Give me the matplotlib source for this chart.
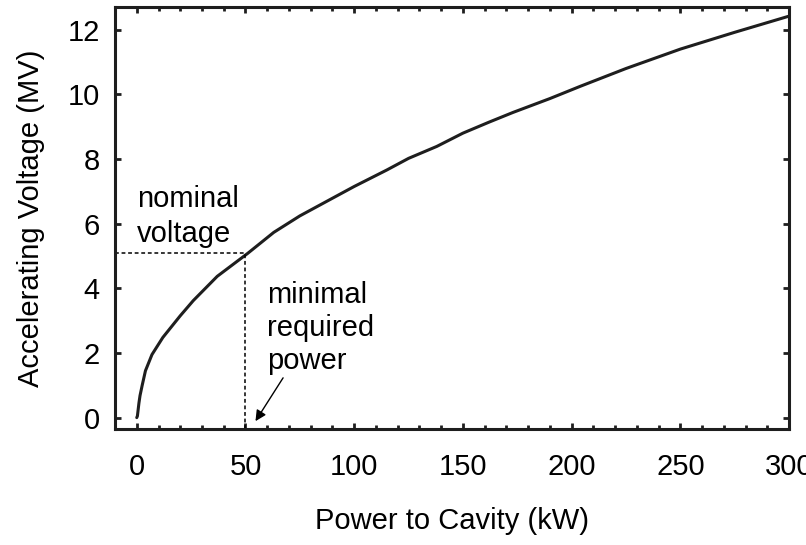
import numpy as np
import matplotlib
matplotlib.use("Agg")
import matplotlib.pyplot as plt
from matplotlib.ticker import MultipleLocator

# curve
power_kw = [0.0, 0.3, 1.0, 1.5, 2.5, 4.0, 7.0, 12.0, 20.0, 26.0, 37.0, 51.0,
            63.0, 75.0, 89.0, 100.0, 115.0, 125.0, 138.0, 150.0, 162.0, 173.0,
            190.0, 204.0, 225.0, 250.0, 275.0, 300.0]
voltage_mv = [0.0, 0.05, 0.45, 0.68, 1.0, 1.45, 1.95, 2.48, 3.15, 3.62, 4.37, 5.08,
              5.73, 6.24, 6.75, 7.15, 7.66, 8.02, 8.39, 8.80, 9.14, 9.44,
              9.87, 10.25, 10.80, 11.40, 11.92, 12.42]

nominal_power = 50.0
nominal_voltage = 5.08

x_ticks = [0, 50, 100, 150, 200, 250, 300]
y_ticks = [0, 2, 4, 6, 8, 10, 12]

plt.rcParams["font.family"] = ["Liberation Sans", "DejaVu Sans"]

fig = plt.figure(figsize=(8.06, 5.45), dpi=100)
ax = fig.add_axes([0.1427, 0.213, 0.979 - 0.1427, 0.987 - 0.213])

ink = "#1e1e1e"
ax.plot(power_kw, voltage_mv, color=ink, lw=2.2, solid_capstyle="round",
        solid_joinstyle="round")

# dashed guides to the nominal point
ax.plot([-10, nominal_power], [nominal_voltage, nominal_voltage],
        color="black", lw=1.1, linestyle=(0, (2.5, 1.8)))
ax.plot([nominal_power, nominal_power], [-0.35, nominal_voltage],
        color="black", lw=1.1, linestyle=(0, (2.5, 1.8)))

fs = 21
ax.text(0, 6.50, "nominal", fontsize=fs, ha="left", va="baseline", color="black")
ax.text(0, 5.42, "voltage", fontsize=fs, ha="left", va="baseline", color="black")
ax.text(60, 3.56, "minimal", fontsize=fs, ha="left", va="baseline", color="black")
ax.text(60, 2.51, "required", fontsize=fs, ha="left", va="baseline", color="black")
ax.text(60, 1.49, "power", fontsize=fs, ha="left", va="baseline", color="black")

ax.annotate("", xy=(54.6, -0.11), xytext=(67.3, 1.23),
            arrowprops=dict(arrowstyle="-|>", color="black", lw=1.0,
                            mutation_scale=16, shrinkA=0, shrinkB=0))

ax.set_xlim(-10, 300)
ax.set_ylim(-0.35, 12.7)
ax.set_xticks(x_ticks)
ax.set_yticks(y_ticks)
ax.xaxis.set_minor_locator(MultipleLocator(10))

for side in ax.spines.values():
    side.set_linewidth(2.2)
    side.set_color(ink)

ax.tick_params(which="both", direction="in", top=True, right=True, color=ink)
ax.tick_params(which="major", length=4, width=2, labelsize=fs)
ax.tick_params(which="minor", length=3, width=2)
ax.tick_params(axis="x", which="major", pad=17)
ax.tick_params(axis="y", which="major", pad=11)

ax.set_xlabel("Power to Cavity (kW)", fontsize=fs, labelpad=19)
ax.set_ylabel("Accelerating Voltage (MV)", fontsize=fs, labelpad=16)

fig.savefig("out.png", dpi=100)
